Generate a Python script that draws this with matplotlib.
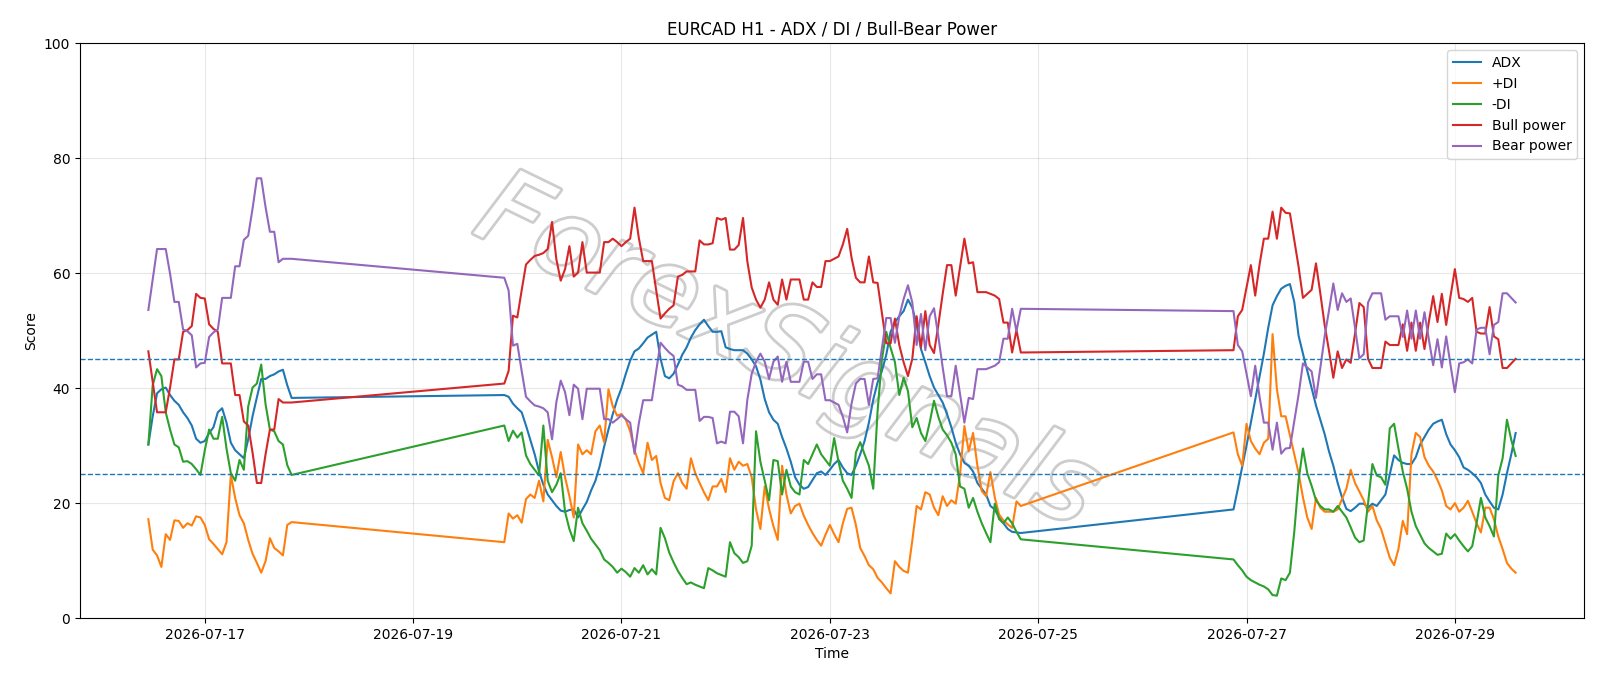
import numpy as np
import pandas as pd
import matplotlib
matplotlib.use("Agg")
import matplotlib.pyplot as plt
import matplotlib.dates as mdates
import matplotlib.patheffects as pe

# trading sessions (hourly bars): start time, number of bars
sessions = [("2026-07-16 11:00", 34), ("2026-07-19 21:00", 120), ("2026-07-26 21:00", 66)]

adx = [
    # week 1
    30.2, 35.1, 39.1, 39.8, 40.1, 38.8, 37.8, 37.1, 35.8, 34.8,
    33.5, 31.2, 30.5, 30.8, 32.2, 33.2, 35.8, 36.5, 34.0, 30.5,
    29.2, 28.5, 27.8, 31.1, 35.1, 38.4, 41.6, 41.6, 42.1, 42.4,
    42.9, 43.2, 40.5, 38.3,
    # week 2
    38.8, 38.5, 37.3, 36.5, 35.8, 33.5, 31.0, 28.5, 25.5, 23.2,
    21.5, 20.5, 19.5, 18.7, 18.5, 18.8, 18.9, 17.5, 18.9, 20.2,
    22.2, 23.9, 26.5, 29.8, 32.8, 35.5, 38.0, 40.0, 42.5, 44.8,
    46.4, 46.9, 47.8, 48.8, 49.3, 49.8, 45.1, 42.1, 41.7, 42.5,
    44.1, 45.8, 47.1, 48.8, 50.1, 51.1, 51.9, 50.8, 49.8, 49.8,
    49.9, 47.1, 46.8, 46.6, 46.6, 46.6, 46.0, 45.0, 43.8, 41.5,
    38.1, 35.8, 34.5, 33.8, 31.5, 29.5, 27.2, 24.5, 23.2, 22.5,
    22.8, 24.0, 25.2, 25.5, 24.9, 25.8, 26.8, 27.5, 26.2, 25.2,
    24.9, 26.5, 28.5, 30.8, 34.0, 38.0, 41.0, 43.0, 45.8, 49.8,
    51.5, 52.5, 53.4, 55.4, 54.0, 51.1, 46.8, 44.5, 42.1, 40.1,
    38.8, 37.5, 35.5, 33.2, 30.5, 28.5, 27.0, 26.5, 25.5, 23.5,
    22.5, 21.5, 19.5, 18.9, 17.5, 16.5, 15.5, 15.0, 14.9, 14.8,
    # week 3
    18.9, 22.5, 26.3, 30.0, 34.0, 38.0, 42.0, 46.0, 50.5, 54.4,
    56.0, 57.3, 57.8, 58.1, 55.0, 49.1, 46.0, 43.0, 40.0, 37.0,
    34.5, 32.0, 29.0, 26.5, 23.5, 21.0, 19.0, 18.6, 19.2, 19.9,
    19.9, 19.2, 19.9, 19.5, 20.5, 21.5, 25.0, 28.3, 27.5, 27.0,
    26.8, 26.8, 28.0, 30.2, 31.5, 32.8, 33.8, 34.2, 34.5, 32.0,
    30.2, 29.2, 28.0, 26.2, 25.8, 25.2, 24.5, 23.5, 21.5, 20.3,
    19.2, 18.9, 21.5, 25.2, 28.5, 32.2,
]

plus_di = [
    17.2, 11.9, 10.9, 8.9, 14.6, 13.6, 17.0, 16.9, 15.7, 16.5,
    16.1, 17.7, 17.5, 16.2, 13.7, 12.9, 12.0, 11.1, 13.2, 24.9,
    20.9, 17.9, 16.5, 13.6, 11.2, 9.6, 7.9, 9.9, 13.9, 12.2,
    11.6, 10.9, 16.2, 16.7,
    13.2, 18.2, 17.3, 17.9, 16.6, 20.7, 21.5, 20.9, 23.9, 20.3,
    31.0, 28.0, 24.5, 28.9, 24.5, 21.2, 17.5, 30.2, 28.5, 29.2,
    28.5, 32.5, 33.5, 30.6, 39.8, 36.8, 35.2, 35.5, 34.5, 32.5,
    29.2, 27.0, 25.2, 30.5, 27.5, 28.2, 23.5, 20.9, 20.5, 23.8,
    25.2, 23.5, 22.5, 27.8, 25.2, 23.5, 21.9, 20.5, 22.9, 22.9,
    24.2, 21.9, 27.8, 25.8, 27.2, 26.5, 26.8, 24.5, 18.9, 15.5,
    22.9, 19.0, 16.0, 13.6, 26.5, 21.5, 18.2, 19.5, 19.9, 17.8,
    16.2, 14.8, 13.6, 12.6, 14.5, 16.2, 14.6, 13.2, 16.5, 19.0,
    19.2, 16.2, 12.2, 10.8, 9.2, 8.5, 7.0, 6.2, 5.2, 4.3,
    9.9, 8.9, 8.2, 7.9, 13.5, 19.5, 18.9, 21.9, 21.5, 19.2,
    17.9, 21.2, 19.5, 20.5, 19.9, 25.0, 33.4, 29.0, 32.2, 26.5,
    22.1, 21.2, 25.4, 21.0, 18.0, 17.0, 16.3, 15.7, 20.3, 19.5,
    32.3, 28.5, 26.5, 33.8, 30.8, 29.5, 28.5, 30.5, 31.2, 49.4,
    39.8, 35.1, 35.1, 31.8, 28.5, 25.2, 21.0, 17.5, 15.5, 20.9,
    19.2, 18.5, 18.5, 18.5, 18.9, 20.7, 22.5, 25.8, 23.5, 22.0,
    20.5, 18.5, 19.5, 17.0, 15.5, 13.0, 10.5, 9.2, 12.0, 16.9,
    14.6, 28.5, 32.2, 31.5, 28.0, 26.5, 25.5, 24.0, 22.2, 19.5,
    18.9, 20.0, 18.5, 19.2, 20.4, 18.5, 16.5, 14.9, 19.2, 19.2,
    17.2, 14.2, 12.0, 9.6, 8.6, 7.9,
]

minus_di = [
    30.2, 40.5, 43.3, 42.1, 35.8, 32.8, 30.2, 29.7, 27.2, 27.3,
    26.8, 25.9, 24.9, 29.2, 32.8, 31.2, 31.2, 35.0, 29.5, 25.2,
    23.9, 27.5, 25.8, 36.8, 40.1, 40.8, 44.1, 37.2, 32.8, 32.5,
    30.8, 30.2, 26.6, 24.9,
    33.5, 30.8, 32.6, 31.4, 32.3, 28.3, 26.8, 25.8, 24.8, 33.5,
    23.9, 21.9, 23.2, 25.2, 18.5, 15.5, 13.4, 19.2, 16.5, 15.2,
    13.8, 12.8, 11.8, 10.2, 9.6, 8.9, 7.9, 8.6, 8.0, 7.2,
    8.7, 7.9, 9.2, 7.6, 8.5, 7.6, 15.7, 13.9, 11.4, 9.7,
    8.2, 7.0, 5.9, 6.2, 5.8, 5.5, 5.2, 8.7, 8.3, 7.8,
    7.5, 7.2, 13.2, 11.3, 10.6, 9.6, 9.9, 12.6, 32.5, 27.2,
    23.9, 20.5, 27.5, 27.3, 21.5, 25.8, 22.9, 21.9, 21.5, 27.5,
    26.8, 28.5, 30.2, 28.5, 27.5, 26.5, 31.3, 27.2, 23.9, 22.5,
    20.9, 28.8, 30.6, 28.5, 26.5, 22.5, 36.0, 45.0, 49.8, 47.0,
    44.5, 38.8, 41.8, 39.5, 33.2, 34.8, 32.2, 30.8, 34.0, 37.8,
    35.0, 32.8, 31.8, 30.5, 28.5, 22.9, 22.5, 19.2, 20.9, 18.5,
    16.5, 14.8, 13.2, 19.9, 17.2, 16.5, 17.5, 16.5, 15.0, 13.7,
    10.2, 9.2, 8.3, 7.2, 6.6, 6.2, 5.8, 5.5, 5.0, 4.0,
    3.9, 6.9, 6.6, 7.9, 15.0, 24.0, 29.5, 25.2, 23.0, 20.5,
    19.5, 18.9, 18.9, 18.5, 19.5, 18.5, 17.5, 15.8, 14.0, 13.2,
    13.5, 20.0, 26.8, 24.8, 24.5, 23.2, 33.0, 33.8, 29.5, 25.5,
    22.5, 18.5, 16.0, 14.5, 13.0, 12.2, 11.6, 11.0, 11.2, 14.7,
    13.8, 14.6, 13.5, 12.5, 11.6, 12.5, 16.5, 20.9, 17.5, 16.0,
    14.2, 24.8, 27.8, 34.5, 31.0, 28.2,
]

bull_power = [
    46.4, 41.1, 35.8, 35.8, 35.8, 40.1, 45.0, 45.0, 49.8, 50.1,
    50.8, 56.4, 55.7, 55.6, 51.1, 50.3, 49.8, 44.3, 44.3, 44.3,
    38.8, 38.8, 34.2, 33.5, 28.8, 23.5, 23.5, 28.5, 32.8, 32.8,
    38.1, 37.5, 37.5, 37.5,
    40.8, 43.0, 52.6, 52.3, 57.0, 61.5, 62.3, 63.0, 63.2, 63.5,
    64.2, 68.9, 62.4, 58.7, 60.7, 64.7, 59.4, 60.1, 65.4, 60.1,
    60.1, 60.1, 60.1, 65.4, 65.4, 66.0, 65.4, 64.7, 65.4, 66.0,
    71.4, 66.1, 62.1, 62.1, 62.1, 57.0, 52.1, 53.0, 53.8, 54.4,
    59.4, 59.7, 60.3, 60.3, 60.3, 65.7, 65.0, 65.0, 65.2, 69.6,
    69.3, 69.6, 64.1, 64.1, 64.9, 69.6, 62.0, 57.5, 55.4, 54.0,
    55.4, 58.4, 55.4, 54.5, 58.9, 55.4, 58.9, 58.9, 58.9, 55.4,
    55.4, 58.4, 57.6, 57.6, 62.1, 62.1, 62.5, 62.9, 65.0, 67.7,
    62.7, 59.2, 58.4, 58.4, 62.9, 58.4, 58.3, 53.0, 47.8, 47.8,
    52.1, 47.5, 44.5, 42.1, 45.1, 52.5, 47.1, 53.4, 47.5, 46.1,
    51.0, 56.4, 61.4, 61.4, 56.1, 61.0, 66.0, 61.7, 61.9, 56.7,
    56.7, 56.7, 56.4, 56.1, 55.5, 51.4, 51.4, 46.2, 50.1, 46.2,
    46.6, 52.5, 53.6, 57.5, 61.4, 56.1, 61.5, 66.0, 66.0, 70.7,
    66.0, 71.4, 70.5, 70.4, 65.8, 61.1, 55.7, 56.4, 57.1, 61.7,
    56.5, 51.0, 46.5, 41.8, 46.4, 43.5, 45.0, 44.4, 49.5, 54.8,
    54.1, 45.1, 43.5, 43.5, 43.5, 48.1, 47.5, 47.5, 47.5, 51.1,
    46.5, 51.4, 46.5, 51.4, 46.8, 51.5, 56.0, 51.5, 56.4, 51.0,
    56.0, 60.7, 55.7, 55.5, 55.0, 55.7, 49.8, 49.5, 49.5, 54.1,
    49.0, 48.5, 43.5, 43.5, 44.3, 45.1,
]

bear_power = [
    53.6, 58.9, 64.2, 64.2, 64.2, 59.9, 55.0, 55.0, 50.2, 49.9,
    49.2, 43.6, 44.3, 44.4, 48.9, 49.7, 50.2, 55.7, 55.7, 55.7,
    61.2, 61.2, 65.8, 66.5, 71.2, 76.5, 76.5, 71.5, 67.2, 67.2,
    61.9, 62.5, 62.5, 62.5,
    59.2, 57.0, 47.4, 47.7, 43.0, 38.5, 37.7, 37.0, 36.8, 36.5,
    35.8, 31.1, 37.6, 41.3, 39.3, 35.3, 40.6, 39.9, 34.6, 39.9,
    39.9, 39.9, 39.9, 34.6, 34.6, 34.0, 34.6, 35.3, 34.6, 34.0,
    28.6, 33.9, 37.9, 37.9, 37.9, 43.0, 47.9, 47.0, 46.2, 45.6,
    40.6, 40.3, 39.7, 39.7, 39.7, 34.3, 35.0, 35.0, 34.8, 30.4,
    30.7, 30.4, 35.9, 35.9, 35.1, 30.4, 38.0, 42.5, 44.6, 46.0,
    44.6, 41.6, 44.6, 45.5, 41.1, 44.6, 41.1, 41.1, 41.1, 44.6,
    44.6, 41.6, 42.4, 42.4, 37.9, 37.9, 37.5, 37.1, 35.0, 32.3,
    37.3, 40.8, 41.6, 41.6, 37.1, 41.6, 41.7, 47.0, 52.2, 52.2,
    47.9, 52.5, 55.5, 57.9, 54.9, 47.5, 52.9, 46.6, 52.5, 53.9,
    49.0, 43.6, 38.6, 38.6, 43.9, 39.0, 34.0, 38.3, 38.1, 43.3,
    43.3, 43.3, 43.6, 43.9, 44.5, 48.6, 48.6, 53.8, 49.9, 53.8,
    53.4, 47.5, 46.4, 42.5, 38.6, 43.9, 38.5, 34.0, 34.0, 29.3,
    34.0, 28.6, 29.5, 29.6, 34.2, 38.9, 44.3, 43.6, 42.9, 38.3,
    43.5, 49.0, 53.5, 58.2, 53.6, 56.5, 55.0, 55.6, 50.5, 45.2,
    45.9, 54.9, 56.5, 56.5, 56.5, 51.9, 52.5, 52.5, 52.5, 48.9,
    53.5, 48.6, 53.5, 48.6, 53.2, 48.5, 44.0, 48.5, 43.6, 49.0,
    44.0, 39.3, 44.3, 44.5, 45.0, 44.3, 50.2, 50.5, 50.5, 45.9,
    51.0, 51.5, 56.5, 56.5, 55.7, 54.9,
]

times = pd.DatetimeIndex(np.concatenate(
    [pd.date_range(start, periods=n, freq="h").values for start, n in sessions]))

fig, ax = plt.subplots(figsize=(16, 6.86), dpi=100)
fig.subplots_adjust(left=0.05, right=0.99, top=0.937, bottom=0.099)

# watermark (hollow grey letters, behind the data)
ax.text(0.47, 0.46, "ForexSignals", transform=ax.transAxes, fontsize=76,
        color="white", rotation=-26, ha="center", va="center",
        fontstyle="italic", zorder=0.5,
        path_effects=[pe.withStroke(linewidth=4, foreground="#cdcdcd")])

ax.plot(times, adx, label="ADX", lw=1.5)
ax.plot(times, plus_di, label="+DI", lw=1.5)
ax.plot(times, minus_di, label="-DI", lw=1.5)
ax.plot(times, bull_power, label="Bull power", lw=1.5)
ax.plot(times, bear_power, label="Bear power", lw=1.5)
ax.axhline(25, ls="--", lw=1)
ax.axhline(45, ls="--", lw=1)

ax.set_ylim(0, 100)
ax.xaxis.set_major_locator(mdates.DayLocator(bymonthday=range(1, 32, 2)))
ax.xaxis.set_major_formatter(mdates.DateFormatter("%Y-%m-%d"))
ax.grid(True, alpha=0.3)
ax.set_title("EURCAD H1 - ADX / DI / Bull-Bear Power")
ax.set_xlabel("Time")
ax.set_ylabel("Score")
ax.legend(loc="upper right")

plt.savefig("out.png")
